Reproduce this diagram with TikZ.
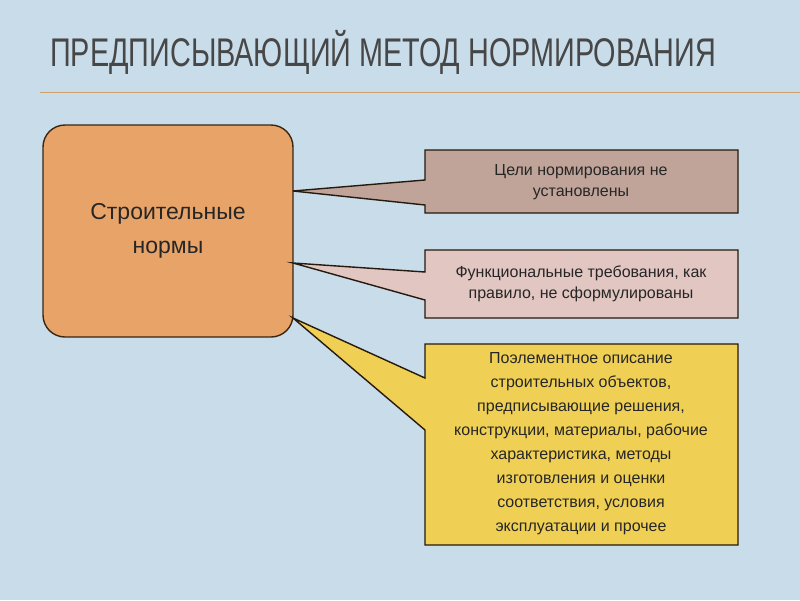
\documentclass[tikz,border=0pt]{standalone}
\usepackage{fontspec}
\setmainfont{Liberation Sans}
\newfontfamily\titlefont[FakeStretch=0.72]{Liberation Sans}
\begin{document}
\begin{tikzpicture}[x=1pt,y=-1pt,
  callout/.style={draw=black!80!brown,line width=1.4pt,line join=miter},
  txt/.style={align=center,text=black!85,font=\fontsize{16}{21}\selectfont}]
\useasboundingbox (0,0) rectangle (800,600);
\fill[color={rgb,255:red,200;green,220;blue,234}] (0,0) rectangle (800,600);
\node[anchor=west,font=\titlefont\fontsize{40}{44}\selectfont,text=black!72,inner sep=0pt] (title) at (50,52) {ПРЕДПИСЫВАЮЩИЙ МЕТОД НОРМИРОВАНИЯ};
\draw[color={rgb,255:red,205;green,160;blue,110},line width=1pt] (40,92) -- (800,92);
\node[draw=black!70!brown,line width=1.4pt,rounded corners=22pt,fill={rgb,255:red,232;green,164;blue,104},minimum width=250pt,minimum height=212pt,align=center,font=\fontsize{23}{34}\selectfont,text=black!85] (sn) at (168,231) {Строительные\\нормы};
\filldraw[callout,fill={rgb,255:red,192;green,164;blue,154}] (738,150)--(738,213)--(425,213)--(425,205)--(293,191)--(425,180)--(425,150)--cycle;
\node[txt] (b1) at (581,182) {Цели нормирования не\\установлены};
\filldraw[callout,fill={rgb,255:red,226;green,198;blue,194}] (738,250)--(738,318)--(425,318)--(425,300)--(293,263)--(425,272)--(425,250)--cycle;
\node[txt] (b2) at (581,284) {Функциональные требования, как\\правило, не сформулированы};
\filldraw[callout,fill={rgb,255:red,240;green,208;blue,84}] (738,344)--(738,545)--(425,545)--(425,430)--(293,318)--(425,378)--(425,344)--cycle;
\node[txt,font=\fontsize{16}{24}\selectfont] (b3) at (581,444) {Поэлементное описание\\строительных объектов,\\предписывающие решения,\\конструкции, материалы, рабочие\\характеристика, методы\\изготовления и оценки\\соответствия, условия\\эксплуатации и прочее};
\end{tikzpicture}
\end{document}
